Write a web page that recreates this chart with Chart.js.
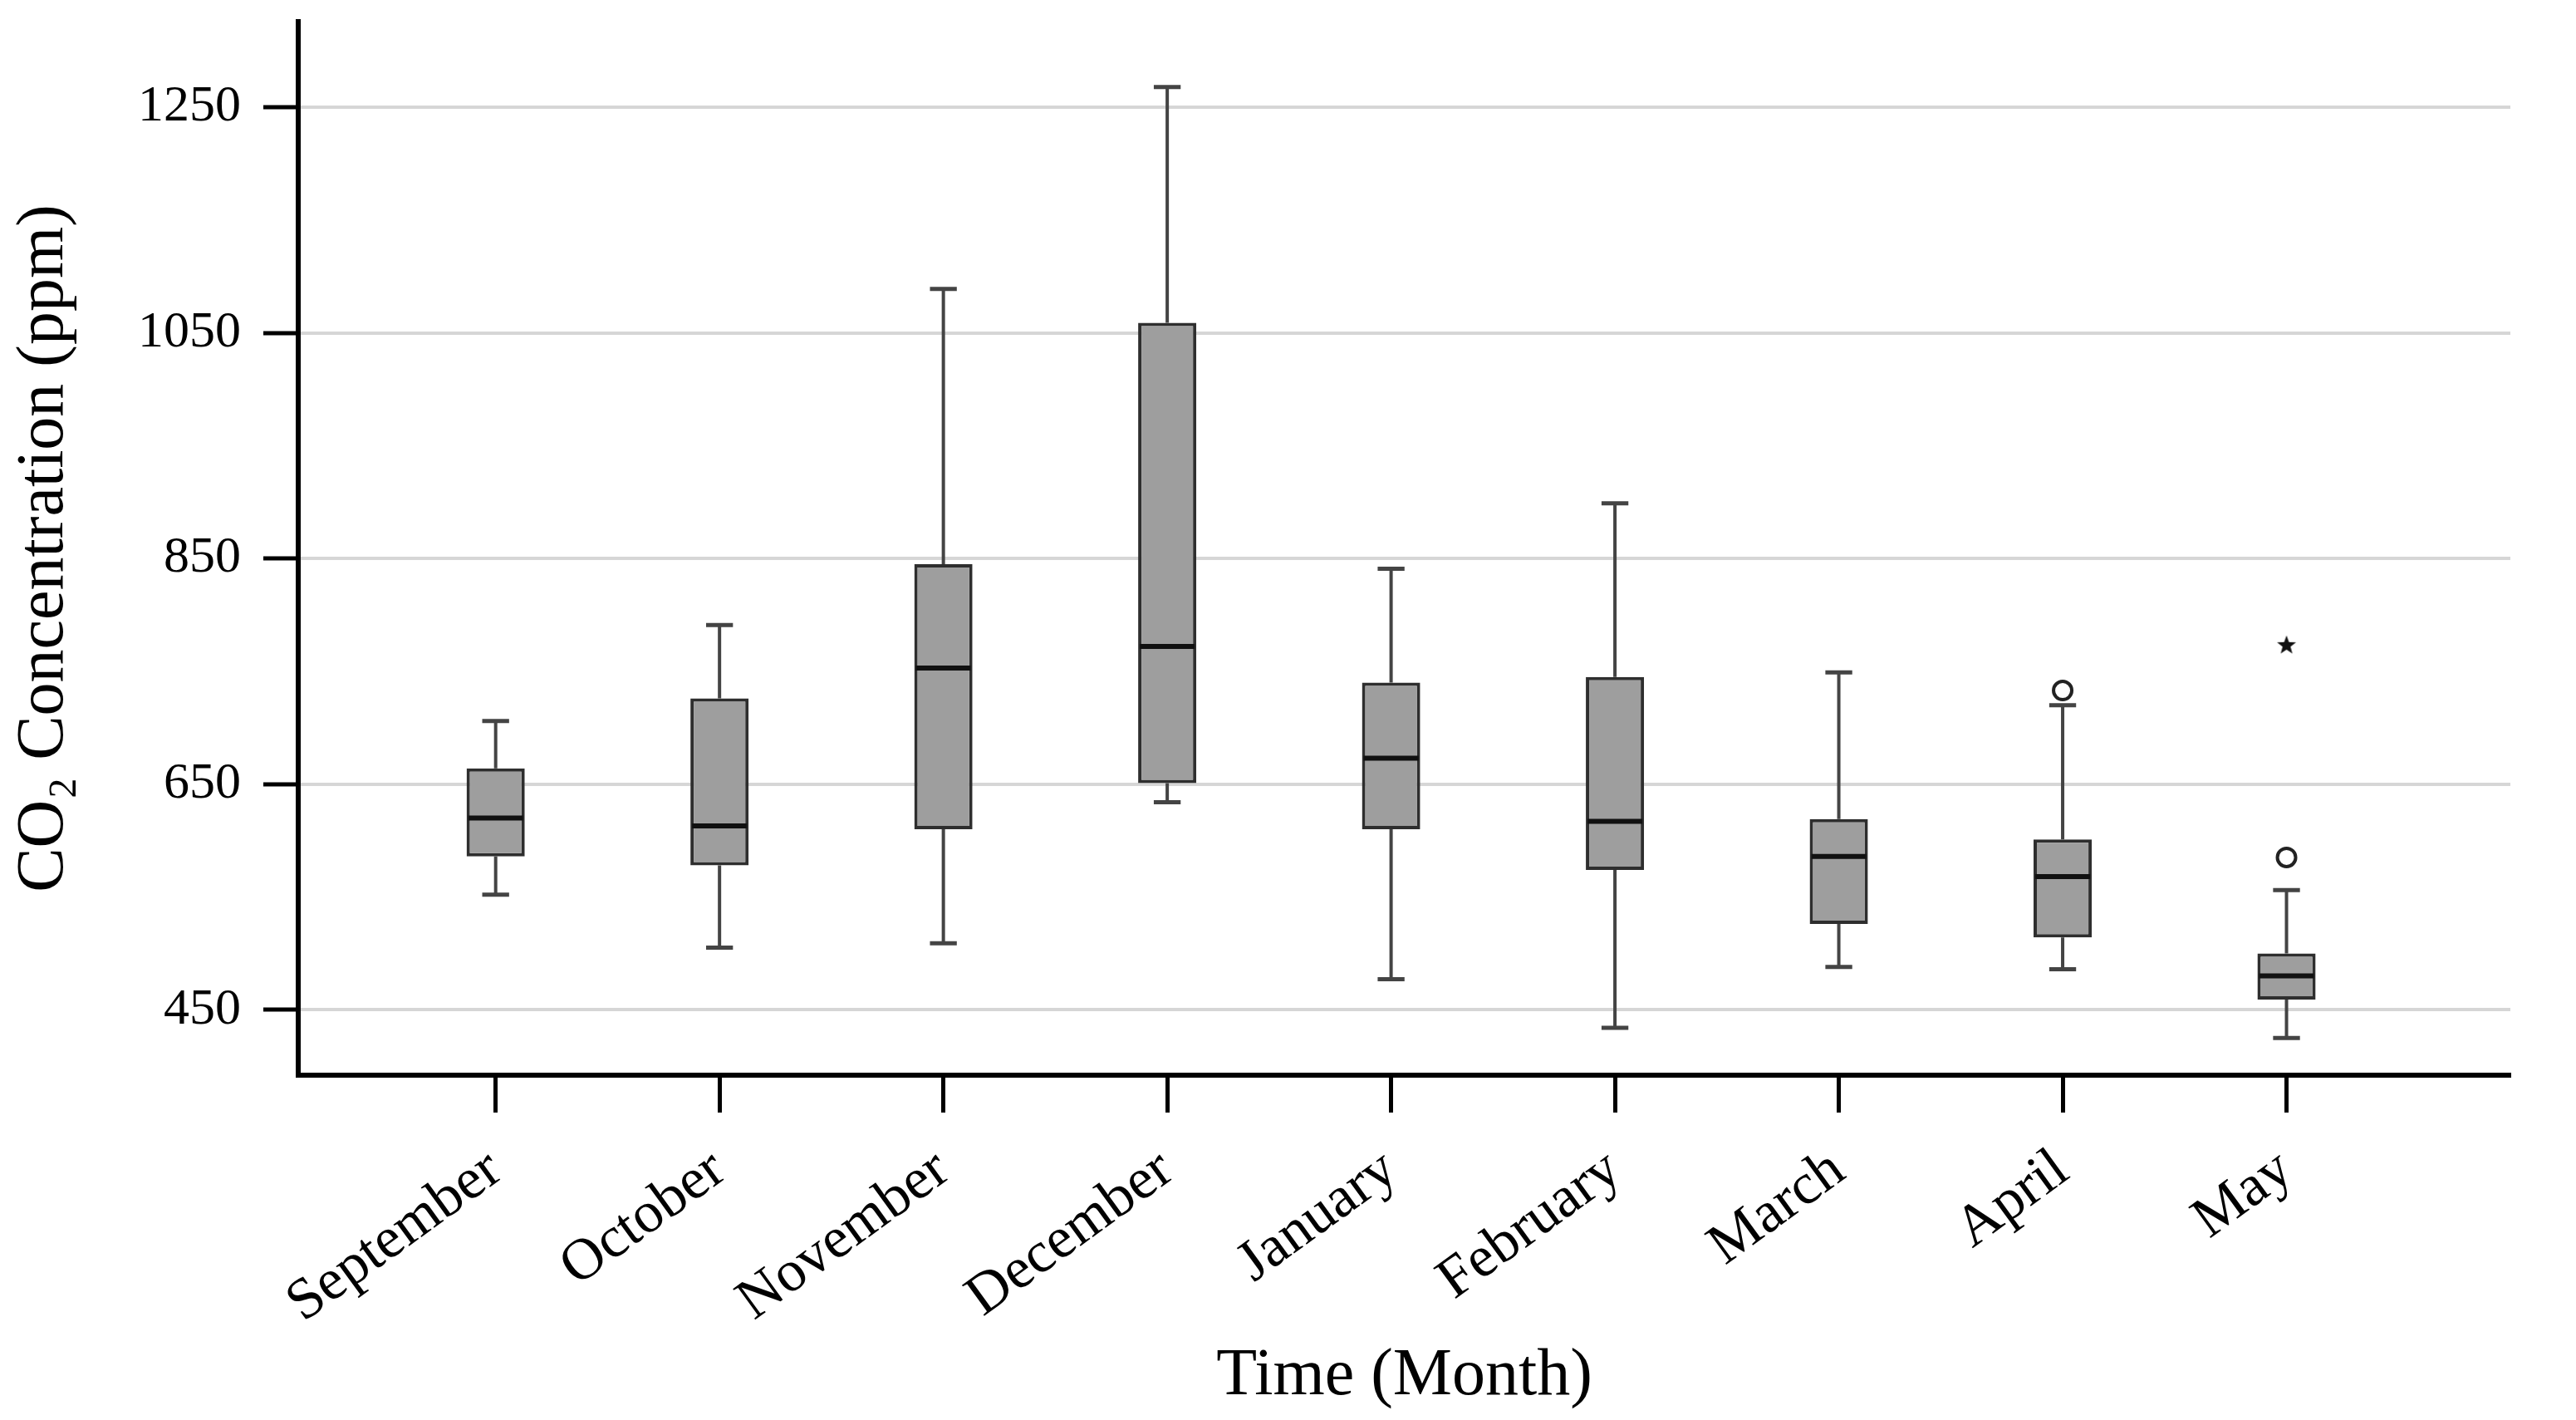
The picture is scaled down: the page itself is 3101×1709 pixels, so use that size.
<!DOCTYPE html>
<html>
<head>
<meta charset="utf-8">
<script src="https://cdn.jsdelivr.net/npm/chart.js@4.4.1/dist/chart.umd.min.js"></script>
<style>
  html, body { margin: 0; padding: 0; background: #fff; }
  #wrap { width: 3101px; height: 1709px; }
</style>
</head>
<body>
<div id="wrap"><canvas id="co2"></canvas></div>
<script>
// box plot values (ppm)
const months = ['September', 'October', 'November', 'December', 'January', 'February', 'March', 'April', 'May'];
const whiskerLow  = [552, 505, 509, 634, 477, 434, 488, 486, 425];
const q1          = [586, 578, 610, 651, 610, 574, 526, 514, 459];
const median      = [620, 613, 753, 772, 673, 617, 586, 568, 480];
const q3          = [664, 726, 845, 1059, 740, 745, 619, 601, 500];
const whiskerHigh = [706, 791, 1089, 1268, 841, 899, 749, 720, 556];
// outliers (circle) and extreme values (star), by month index
const outlierMonth = [7, 8];
const outlierValue = [733, 585];
const extremeMonth = [8];
const extremeValue = [773];
const yTicks = [450, 650, 850, 1050, 1250];

const serif = 'Liberation Serif, Times New Roman, serif';

// small filled star for the extreme value
const star = document.createElement('canvas');
star.width = 26; star.height = 26;
(function () {
    const c = star.getContext('2d');
    c.fillStyle = '#111';
    c.beginPath();
    for (let k = 0; k < 10; k++) {
        const r = k % 2 === 0 ? 12 : 5;
        const a = -Math.PI / 2 + k * Math.PI / 5;
        const px = 13 + r * Math.cos(a), py = 13 + r * Math.sin(a);
        if (k === 0) c.moveTo(px, py); else c.lineTo(px, py);
    }
    c.closePath();
    c.fill();
})();

const whiskers = {
    id: 'whiskers',
    beforeDatasetsDraw(chart) {
        const { ctx, scales: { x, y } } = chart;
        const step = x.getPixelForValue(1) - x.getPixelForValue(0);
        const cap = step * 0.06;
        ctx.save();
        ctx.strokeStyle = '#444';
        months.forEach((m, i) => {
            const px = x.getPixelForValue(i);
            ctx.lineWidth = 4;
            ctx.beginPath();
            ctx.moveTo(px, y.getPixelForValue(whiskerHigh[i]));
            ctx.lineTo(px, y.getPixelForValue(q3[i]));
            ctx.moveTo(px, y.getPixelForValue(q1[i]));
            ctx.lineTo(px, y.getPixelForValue(whiskerLow[i]));
            ctx.stroke();
            ctx.lineWidth = 5;
            ctx.beginPath();
            ctx.moveTo(px - cap, y.getPixelForValue(whiskerHigh[i]));
            ctx.lineTo(px + cap, y.getPixelForValue(whiskerHigh[i]));
            ctx.moveTo(px - cap, y.getPixelForValue(whiskerLow[i]));
            ctx.lineTo(px + cap, y.getPixelForValue(whiskerLow[i]));
            ctx.stroke();
        });
        ctx.restore();
    },
    afterDatasetsDraw(chart) {
        const { ctx, scales: { y } } = chart;
        const bars = chart.getDatasetMeta(0).data;
        ctx.save();
        ctx.strokeStyle = '#111';
        ctx.lineWidth = 6;
        bars.forEach((bar, i) => {
            const py = y.getPixelForValue(median[i]);
            ctx.beginPath();
            ctx.moveTo(bar.x - bar.width / 2 + 2, py);
            ctx.lineTo(bar.x + bar.width / 2 - 2, py);
            ctx.stroke();
        });
        ctx.restore();
    }
};

new Chart('co2', {
    type: 'bar',
    data: {
        datasets: [{
            label: 'IQR',
            data: months.map((m, i) => ({ x: i, y: [q1[i], q3[i]] })),
            backgroundColor: '#9e9e9e',
            borderColor: '#2e2e2e',
            borderWidth: 4,
            borderSkipped: false,
            barPercentage: 0.26,
            categoryPercentage: 1
        }, {
            type: 'scatter',
            label: 'Outliers',
            data: outlierMonth.map((m, i) => ({ x: m, y: outlierValue[i] })),
            pointStyle: 'circle',
            pointRadius: 11,
            borderWidth: 4,
            borderColor: '#222',
            backgroundColor: 'rgba(255,255,255,0)'
        }, {
            type: 'scatter',
            label: 'Extremes',
            data: extremeMonth.map((m, i) => ({ x: m, y: extremeValue[i] })),
            pointStyle: star
        }]
    },
    options: {
        responsive: true,
        maintainAspectRatio: false,
        devicePixelRatio: 1,
        animation: false,
        layout: { padding: { top: 26, right: 79, left: 0, bottom: 0 } },
        plugins: {
            legend: { display: false },
            tooltip: { enabled: false }
        },
        scales: {
            x: {
                type: 'linear',
                min: -0.882,
                max: 9,
                offset: false,
                afterBuildTicks: (scale) => { scale.ticks = months.map((m, i) => ({ value: i })); },
                afterFit: (scale) => { scale.height = 415; scale.paddingLeft = 0; scale.paddingRight = 0; },
                ticks: {
                    autoSkip: false,
                    minRotation: 36,
                    maxRotation: 36,
                    padding: 28,
                    color: '#000',
                    font: { family: serif, size: 70 },
                    callback: (v) => months[v]
                },
                grid: {
                    offset: false,
                    drawOnChartArea: false,
                    drawTicks: true,
                    tickLength: 45,
                    tickWidth: 5,
                    tickColor: '#000'
                },
                border: { color: '#000', width: 6 },
                title: {
                    display: true,
                    text: 'Time (Month)',
                    color: '#000',
                    font: { family: serif, size: 80 },
                    padding: { top: 0, bottom: 4 }
                }
            },
            y: {
                min: 392,
                max: 1326,
                afterBuildTicks: (scale) => { scale.ticks = yTicks.map(v => ({ value: v })); },
                afterFit: (scale) => { scale.width = 359; scale.paddingTop = 0; scale.paddingBottom = 0; },
                ticks: {
                    padding: 27,
                    color: '#000',
                    font: { family: serif, size: 62 },
                    callback: (v) => String(v)
                },
                grid: {
                    color: '#d6d6d6',
                    lineWidth: 4,
                    tickLength: 42,
                    tickWidth: 5,
                    tickColor: '#000'
                },
                border: { color: '#000', width: 6 },
                title: {
                    display: true,
                    text: 'CO₂ Concentration (ppm)',
                    color: '#000',
                    font: { family: serif, size: 80 },
                    padding: { top: 6, bottom: 0 }
                }
            }
        }
    },
    plugins: [whiskers]
});
</script>
</body>
</html>
